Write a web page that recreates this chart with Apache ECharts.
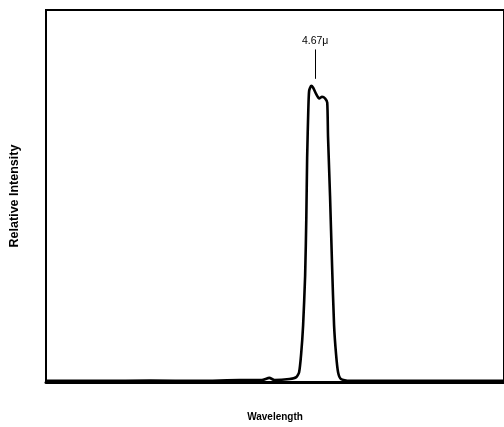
<!DOCTYPE html>
<html>
<head>
<meta charset="utf-8">
<script src="https://cdn.jsdelivr.net/npm/echarts@6/dist/echarts.min.js"></script>
<style>
  html, body { margin: 0; padding: 0; background: #fff; }
  #chart { width: 504px; height: 427px; }
</style>
</head>
<body>
<div id="chart"></div>
<script>
// Emission spectrum: wavelength (microns) vs relative intensity (arbitrary units)
var wavelength = [
  4.000, 4.136, 4.260, 4.383, 4.482, 4.537, 4.556, 4.569, 4.606, 4.623,
  4.630, 4.635, 4.640, 4.645, 4.648, 4.650, 4.653, 4.655, 4.660, 4.665,
  4.672, 4.680, 4.687, 4.695, 4.700, 4.702, 4.707, 4.712, 4.717, 4.722,
  4.727, 4.734, 4.754, 4.877, 5.001, 5.140
];
var intensity = [
  0.3, 0.3, 0.4, 0.3, 0.5, 0.5, 1.1, 0.5, 0.8, 1.3,
  2.6, 7.4, 15.3, 28.6, 44.4, 60.3, 73.5, 78.3, 79.6, 79.1,
  77.5, 76.2, 76.7, 76.2, 75.1, 65.9, 50.0, 31.5, 15.3, 7.4,
  2.6, 0.8, 0.3, 0.3, 0.3, 0.3
];
var peakWavelength = 4.67;
var peakLabel = '4.67\u03bc';
var peakTick = [81.5, 89.4];

var chart = echarts.init(document.getElementById('chart'), null, { renderer: 'canvas' });
var data = wavelength.map(function (w, i) { return [w, intensity[i]]; });

chart.setOption({
  animation: false,
  backgroundColor: '#fff',
  textStyle: { fontFamily: 'Liberation Sans, Arial, sans-serif' },
  grid: {
    left: 45, right: -4, top: 10, bottom: 39,
    show: true, borderColor: '#000', borderWidth: 2
  },
  xAxis: {
    type: 'value', min: 4.0, max: 5.14,
    name: 'Wavelength', nameLocation: 'middle', nameGap: 30,
    nameTextStyle: { color: '#000', fontSize: 10, fontWeight: 'bold' },
    axisLine: { show: true, lineStyle: { color: '#000', width: 3 } },
    axisTick: { show: false }, axisLabel: { show: false }, splitLine: { show: false }
  },
  yAxis: {
    type: 'value', min: 0, max: 100,
    name: 'Relative Intensity', nameLocation: 'middle', nameGap: 25,
    nameTextStyle: { color: '#000', fontSize: 12.5, fontWeight: 'bold' },
    axisLine: { show: true, lineStyle: { color: '#000', width: 2 } },
    axisTick: { show: false }, axisLabel: { show: false }, splitLine: { show: false }
  },
  series: [{
    type: 'line',
    data: data,
    smooth: 0.2,
    symbol: 'none',
    lineStyle: { color: '#000', width: 2.6 },
    markLine: {
      silent: true,
      symbol: ['none', 'none'],
      lineStyle: { color: '#000', width: 1, type: 'solid' },
      label: {
        show: true, position: 'end', formatter: peakLabel,
        color: '#000', fontSize: 10.5, distance: 3
      },
      data: [[
        { coord: [peakWavelength, peakTick[0]] },
        { coord: [peakWavelength, peakTick[1]] }
      ]]
    }
  }]
});
</script>
</body>
</html>
